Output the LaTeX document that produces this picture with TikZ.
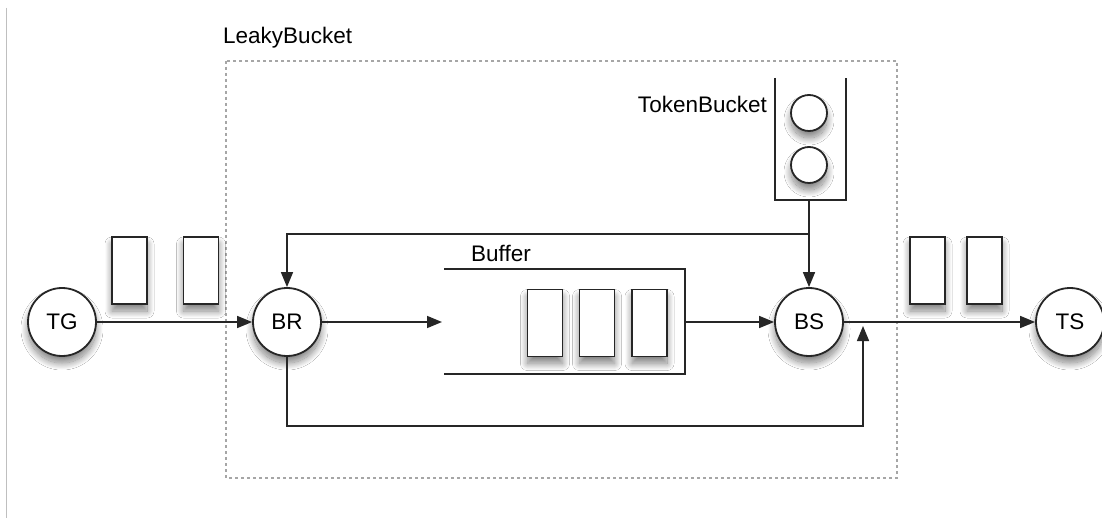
\documentclass[tikz,border=0pt]{standalone}
\usepackage{fontspec}
\setmainfont{Liberation Sans}
\usetikzlibrary{arrows.meta,shadows.blur,calc}

\tikzset{
  lbl/.style={font=\fontsize{22.5}{26}\selectfont, inner sep=0pt},
  softshadow/.style={blur shadow={shadow xshift=0pt, shadow yshift=-7pt,
      shadow blur radius=7pt, shadow blur steps=20, shadow opacity=50}},
  station/.style={circle, draw=black!85, fill=white, line width=1.8pt,
      minimum size=68pt, inner sep=0pt, softshadow,
      font=\fontsize{22.5}{26}\selectfont},
  packet/.style={rectangle, draw=black!85, fill=white, line width=1.8pt,
      minimum width=35pt, minimum height=67pt, inner sep=0pt, softshadow},
  token/.style={circle, draw=black!85, fill=white, line width=1.8pt,
      minimum size=36pt, inner sep=0pt, softshadow},
  wall/.style={draw=black!85, line width=1.8pt},
  flow/.style={draw=black!85, line width=1.6pt,
      -{Triangle[length=15pt,width=12pt]}},
  region/.style={draw=black!35, line width=1.3pt, dash pattern=on 3pt off 3pt},
}

\begin{document}
\begin{tikzpicture}[x=1pt, y=1pt]
  \useasboundingbox[fill=white] (0,0) rectangle (1102,-518);

  % page rule on the left
  \draw[black!25, line width=1pt] (6.5,-8) -- (6.5,-518);

  % leaky bucket region
  \draw[region] (226,-61) rectangle (897,-478);
  \node[lbl, anchor=base west] (lbname) at (223,-44) {LeakyBucket};

  % buffer (open on the left)
  \coordinate (bufin) at (442,-322);
  \coordinate (bufout) at (685,-322);
  \path[wall] (444,-269) -- (685,-269) -- (685,-374) -- (444,-374);
  \node[lbl, anchor=base west] (bufname) at (471,-262) {Buffer};
  \node[packet] (q1) at (545,-323) {};
  \node[packet] (q2) at (597,-323) {};
  \node[packet] (q3) at (649.5,-323) {};

  % token bucket
  \path[wall] (775,-78) -- (775,-200) -- (846,-200) -- (846,-78);
  \coordinate (tbout) at (809,-200);
  \coordinate (split) at (809,-234);
  \node[token] (t1) at (809,-113) {};
  \node[token] (t2) at (809,-165) {};
  \node[lbl, anchor=base east] (tbname) at (767,-113) {TokenBucket};

  % packets in transit
  \node[packet] (p1) at (129.5,-270.5) {};
  \node[packet] (p2) at (201,-270.5) {};
  \node[packet] (p3) at (927.5,-270.5) {};
  \node[packet] (p4) at (984.5,-270.5) {};

  % stations
  \node[station] (TG) at (62,-322) {TG};
  \node[station] (BR) at (287,-322) {BR};
  \node[station] (BS) at (809,-322) {BS};
  \node[station] (TS) at (1070,-322) {TS};

  % connectors
  \path[flow] (TG) -- (BR);
  \path[flow] (BR) -- (bufin);
  \path[flow] (bufout) -- (BS);
  \path[flow] (tbout) -- (BS);
  \path[flow] (split) -| (BR);
  \path[flow] (BS) -- (TS);
  \coordinate (bypass) at (863,-426);
  \coordinate (bypassend) at (863,-326);
  \path[flow] (BR.south) |- (bypass) -- (bypassend);
\end{tikzpicture}
\end{document}
